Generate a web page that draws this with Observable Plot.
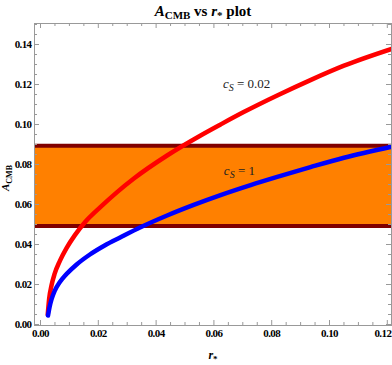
<!DOCTYPE html>
<html><head><meta charset="utf-8">
<script src="https://cdn.jsdelivr.net/npm/d3@7"></script>
<script src="https://cdn.jsdelivr.net/npm/@observablehq/plot@0.6"></script>
<style>body{margin:0;background:#fff}</style>
</head><body><div id="chart"></div>
<script>
const redX = [0.0025,0.0030,0.0038,0.0049,0.0067,0.0090,0.0119,0.0153,0.0208,0.0265,0.0323,0.0438,0.0554,0.0623,0.0703,0.0819,0.0934,0.105,0.1215];
const redY = [0.0050,0.0130,0.0195,0.0254,0.0318,0.0382,0.0447,0.0510,0.0588,0.0662,0.0730,0.0845,0.0945,0.1000,0.1062,0.1145,0.1222,0.1294,0.1378];
const blueX = [0.0026,0.0031,0.0038,0.0049,0.0067,0.0090,0.0125,0.0171,0.0222,0.0277,0.0346,0.0438,0.053,0.0623,0.0727,0.0819,0.0934,0.105,0.1215];
const blueY = [0.0045,0.0085,0.0125,0.0168,0.0212,0.0252,0.0300,0.0350,0.0395,0.0436,0.0486,0.0545,0.0598,0.0647,0.0697,0.0738,0.0787,0.0834,0.0889];
const bandLow = 0.0492, bandHigh = 0.0894;
const xTicks = [0,0.02,0.04,0.06,0.08,0.10,0.12];
const yTicks = [0,0.02,0.04,0.06,0.08,0.10,0.12,0.14];
const xMinor = d3.range(0,0.1215,0.005).filter(v=>Math.abs(v/0.02-Math.round(v/0.02))>1e-6);
const yMinor = d3.range(0,0.1505,0.005).filter(v=>Math.abs(v/0.02-Math.round(v/0.02))>1e-6);
const labels = [{x:0.0715,y:0.118,t:"0.02"},{x:0.069,y:0.0745,t:"1"}];

const W=392,H=365,mL=34,mR=1,mT=23,mB=40;
const iW=W-mL-mR, iH=H-mT-mB;
const xDom=[-0.00208,0.12145], yDom=[-0.0005,0.1505];
const red = redX.map((x,i)=>({x,y:redY[i]}));
const blue = blueX.map((x,i)=>({x,y:blueY[i]}));
const font = "Liberation Serif";

const plot = Plot.plot({
  width:W,height:H,marginLeft:mL,marginRight:mR,marginTop:mT,marginBottom:mB,
  x:{domain:xDom},y:{domain:yDom},
  style:{fontFamily:font,background:"#fff"},
  marks:[
    Plot.rect([{a:xDom[0],b:xDom[1]}],{x1:"a",x2:"b",y1:()=>bandLow,y2:()=>bandHigh,fill:"#ff8000"}),
    Plot.ruleY([bandLow,bandHigh],{stroke:"#800000",strokeWidth:4}),
    Plot.line(red,{x:"x",y:"y",stroke:"#ff0000",strokeWidth:4.5,curve:"monotone-x"}),
    Plot.line(blue,{x:"x",y:"y",stroke:"#0000ff",strokeWidth:4.5,curve:"monotone-x"}),
    Plot.frame({stroke:"#999"}),
    Plot.tickX(xTicks,{x:d=>d,insetTop:iH-5,stroke:"#999"}),
    Plot.tickX(xTicks,{x:d=>d,insetBottom:iH-5,stroke:"#999"}),
    Plot.tickX(xMinor,{x:d=>d,insetTop:iH-3,stroke:"#999"}),
    Plot.tickX(xMinor,{x:d=>d,insetBottom:iH-3,stroke:"#999"}),
    Plot.tickY(yTicks,{y:d=>d,insetRight:iW-5,stroke:"#999"}),
    Plot.tickY(yTicks,{y:d=>d,insetLeft:iW-5,stroke:"#999"}),
    Plot.tickY(yMinor,{y:d=>d,insetRight:iW-3,stroke:"#999"}),
    Plot.tickY(yMinor,{y:d=>d,insetLeft:iW-3,stroke:"#999"}),
    Plot.axisX({ticks:xTicks,tickSize:0,tickPadding:4,tickFormat:d3.format(".2f"),fontWeight:"bold",fontSize:11,label:null}),
    Plot.axisY({ticks:yTicks,tickSize:0,tickPadding:3,tickFormat:d3.format(".2f"),fontWeight:"bold",fontSize:11,label:null})
  ]
});
document.getElementById("chart").appendChild(plot);
const svg = d3.select(plot);
const xs = plot.scale("x"), ys = plot.scale("y");

svg.selectAll('g[aria-label="x-axis tick label"], g[aria-label="y-axis tick label"]').attr("letter-spacing","-0.6");
// keep last x tick label inside the picture
const xTexts = svg.selectAll('g[aria-label="x-axis tick label"] text').nodes();
if (xTexts.length) {
  d3.select(xTexts[xTexts.length-1]).attr("text-anchor","end").attr("dx",4);
}

// curve labels c_S = ...
labels.forEach(l=>{
  const t = svg.append("text").attr("x",xs.apply(l.x)).attr("y",ys.apply(l.y))
    .attr("text-anchor","middle").attr("font-family",font).attr("font-size",13).attr("fill","#222");
  t.append("tspan").attr("font-style","italic").text("c");
  t.append("tspan").attr("font-style","italic").attr("font-size",10).attr("dy",3).text("S");
  t.append("tspan").attr("dy",-3).text(" = " + l.t);
});
// title
const title = svg.append("text").attr("x",203).attr("y",16).attr("text-anchor","middle")
  .attr("font-family",font).attr("font-size",15).attr("font-weight","bold");
title.append("tspan").attr("font-style","italic").text("A");
title.append("tspan").attr("font-size",11).attr("dy",3).text("CMB");
title.append("tspan").attr("dy",-3).text(" vs ");
title.append("tspan").attr("font-style","italic").text("r");
title.append("tspan").attr("font-size",11).attr("dy",3).text("*");
title.append("tspan").attr("dy",-3).text(" plot");
// x label
const xl = svg.append("text").attr("x",213).attr("y",359).attr("text-anchor","middle")
  .attr("font-family",font).attr("font-size",12).attr("font-weight","bold");
xl.append("tspan").attr("font-style","italic").text("r");
xl.append("tspan").attr("font-size",9).attr("dy",3).text("*");
// y label
const yl = svg.append("text").attr("transform","translate(9,178) rotate(-90)").attr("text-anchor","middle")
  .attr("font-family",font).attr("font-size",11).attr("font-weight","bold");
yl.append("tspan").attr("font-style","italic").text("A");
yl.append("tspan").attr("font-size",8).attr("dy",3).text("CMB");
</script></body></html>
